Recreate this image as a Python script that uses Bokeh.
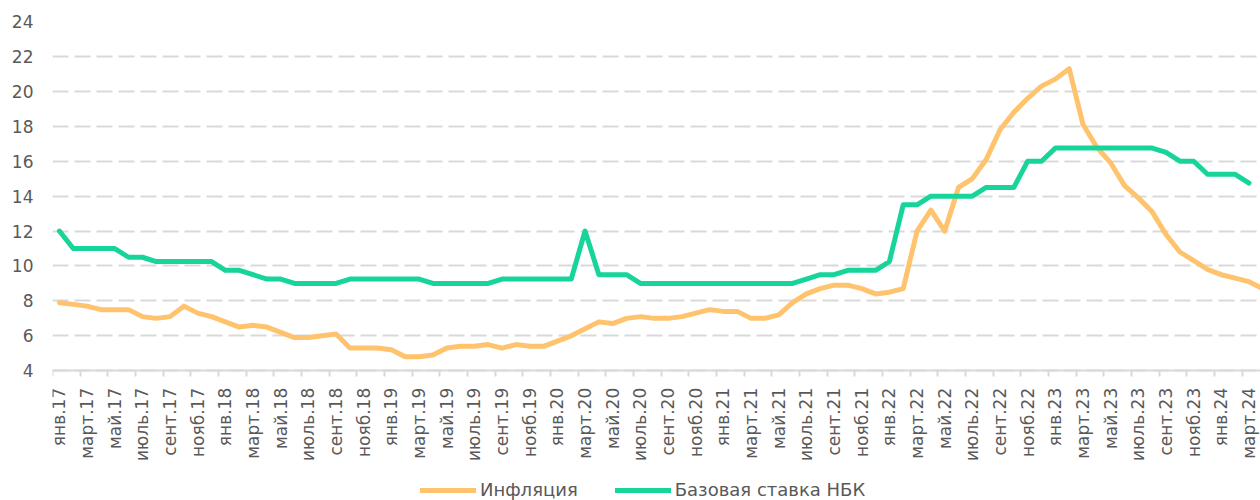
from bokeh.plotting import figure
from bokeh.models import (Range1d, FixedTicker, Legend, LegendItem,
                          ColumnDataSource)
from bokeh.embed import file_html
from bokeh.resources import INLINE

tick_labels = [
    "янв.17", "март.17", "май.17", "июль.17", "сент.17", "нояб.17",
    "янв.18", "март.18", "май.18", "июль.18", "сент.18", "нояб.18",
    "янв.19", "март.19", "май.19", "июль.19", "сент.19", "нояб.19",
    "янв.20", "март.20", "май.20", "июль.20", "сент.20", "нояб.20",
    "янв.21", "март.21", "май.21", "июль.21", "сент.21", "нояб.21",
    "янв.22", "март.22", "май.22", "июль.22", "сент.22", "нояб.22",
    "янв.23", "март.23", "май.23", "июль.23", "сент.23", "нояб.23",
    "янв.24", "март.24",
]

# Monthly values, Jan 2017 .. Apr 2024
inflation = [
    7.9, 7.8, 7.7, 7.5, 7.5, 7.5, 7.1, 7.0, 7.1, 7.7, 7.3, 7.1,
    6.8, 6.5, 6.6, 6.5, 6.2, 5.9, 5.9, 6.0, 6.1, 5.3, 5.3, 5.3,
    5.2, 4.8, 4.8, 4.9, 5.3, 5.4, 5.4, 5.5, 5.3, 5.5, 5.4, 5.4,
    5.7, 6.0, 6.4, 6.8, 6.7, 7.0, 7.1, 7.0, 7.0, 7.1, 7.3, 7.5,
    7.4, 7.4, 7.0, 7.0, 7.2, 7.9, 8.4, 8.7, 8.9, 8.9, 8.7, 8.4,
    8.5, 8.7, 12.0, 13.2, 12.0, 14.5, 15.0, 16.1, 17.8, 18.8, 19.6, 20.3,
    20.7, 21.3, 18.1, 16.8, 15.9, 14.6, 13.9, 13.1, 11.8, 10.8, 10.3, 9.8,
    9.5, 9.3, 9.1, 8.7,
]

# Monthly values, Jan 2017 .. Mar 2024
base_rate = [
    12.0, 11.0, 11.0, 11.0, 11.0, 10.5, 10.5, 10.25, 10.25, 10.25, 10.25, 10.25,
    9.75, 9.75, 9.5, 9.25, 9.25, 9.0, 9.0, 9.0, 9.0, 9.25, 9.25, 9.25,
    9.25, 9.25, 9.25, 9.0, 9.0, 9.0, 9.0, 9.0, 9.25, 9.25, 9.25, 9.25,
    9.25, 9.25, 12.0, 9.5, 9.5, 9.5, 9.0, 9.0, 9.0, 9.0, 9.0, 9.0,
    9.0, 9.0, 9.0, 9.0, 9.0, 9.0, 9.25, 9.5, 9.5, 9.75, 9.75, 9.75,
    10.25, 13.5, 13.5, 14.0, 14.0, 14.0, 14.0, 14.5, 14.5, 14.5, 16.0, 16.0,
    16.75, 16.75, 16.75, 16.75, 16.75, 16.75, 16.75, 16.75, 16.5, 16.0, 16.0, 15.25,
    15.25, 15.25, 14.75,
]

y_ticks = list(range(4, 25, 2))
Y_MIN, Y_MAX = 4, 24

FONT = "DejaVu Sans"
TXT = "#595959"
GRID = "#D9D9D9"
ORANGE = "#FFC36E"
GREEN = "#17D49B"

# frame runs to the bottom of the canvas; the x axis is anchored at y = 4,
# so the rotated month labels and the legend sit below it inside the frame
p = figure(width=1260, height=500, output_backend="svg", toolbar_location=None,
           x_range=Range1d(-0.5, 86.83), y_range=Range1d(-3.43, Y_MAX),
           min_border_left=52, min_border_right=0, min_border_top=21,
           min_border_bottom=0)
p.outline_line_color = None
p.background_fill_color = "white"
p.border_fill_color = "white"

src_i = ColumnDataSource(dict(x=list(range(len(inflation))), y=inflation))
src_b = ColumnDataSource(dict(x=list(range(len(base_rate))), y=base_rate))

r_inf = p.line("x", "y", source=src_i, line_color=ORANGE, line_width=5,
               line_join="round", line_cap="round")
r_base = p.line("x", "y", source=src_b, line_color=GREEN, line_width=5,
                line_join="round", line_cap="round")

# x axis
label_pos = [2 * i for i in range(len(tick_labels))]
xa = p.xaxis[0]
xa.fixed_location = Y_MIN
xa.ticker = FixedTicker(ticks=label_pos,
                        minor_ticks=[v - 0.5 for v in label_pos])
xa.major_label_overrides = {v: t for v, t in zip(label_pos, tick_labels)}
xa.major_label_orientation = 3.14159265 / 2
xa.major_tick_out = 0
xa.major_tick_in = 0
xa.minor_tick_out = 6
xa.minor_tick_in = 0
xa.minor_tick_line_color = GRID
xa.minor_tick_line_width = 2
xa.axis_line_color = GRID
xa.axis_line_width = 2
xa.major_label_standoff = 11
xa.major_label_text_font = FONT
xa.major_label_text_font_size = "17px"
xa.major_label_text_color = TXT
p.xgrid.visible = False

# y axis
ya = p.yaxis[0]
ya.ticker = FixedTicker(ticks=y_ticks)
ya.axis_line_color = None
ya.major_tick_line_color = None
ya.minor_tick_line_color = None
ya.major_tick_out = 0
ya.major_tick_in = 0
ya.major_label_standoff = 19
ya.major_label_text_font = FONT
ya.major_label_text_font_size = "17px"
ya.major_label_text_color = TXT
p.ygrid.ticker = FixedTicker(ticks=y_ticks)
p.ygrid.grid_line_color = GRID
p.ygrid.grid_line_width = 2
p.ygrid.grid_line_dash = "16 6"

legend = Legend(items=[LegendItem(label="Инфляция", renderers=[r_inf]),
                       LegendItem(label="Базовая ставка НБК", renderers=[r_base])],
                location=(368, 0), orientation="horizontal",
                glyph_width=56, glyph_height=20, label_standoff=4, spacing=37,
                padding=0, margin=0, border_line_color=None,
                background_fill_alpha=0,
                label_text_font=FONT, label_text_font_size="18px",
                label_text_color=TXT, label_height=20)
p.add_layout(legend, "center")

open("out.html", "w").write(file_html(p, INLINE))
